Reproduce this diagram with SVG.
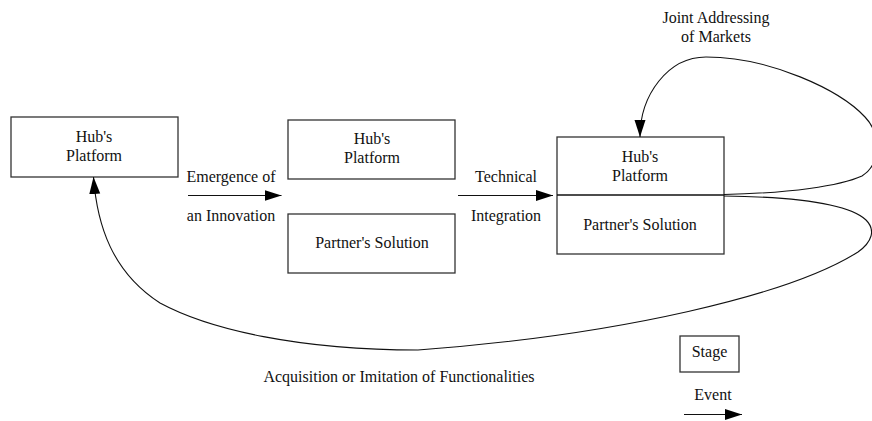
<svg xmlns="http://www.w3.org/2000/svg" width="872" height="421" viewBox="0 0 872 421">
<style>
.box{fill:#fff;stroke:#333;stroke-width:1.3}
text{font-family:Liberation Serif,Times New Roman,Times,serif;font-size:16px;fill:#111;text-anchor:middle}
.conn{fill:none;stroke:#111;stroke-width:1.1}
</style>
<defs>
<marker id="ah" markerUnits="userSpaceOnUse" markerWidth="18" markerHeight="12" refX="17" refY="5.5" orient="auto" viewBox="0 0 18 11">
<path d="M0,0 L17,5.5 L0,11 z" fill="#000"/>
</marker>
</defs>
<rect width="872" height="421" fill="#fff"/>
<g id="stage1">
<rect class="box" x="11" y="117" width="167" height="60"/>
<text x="94" y="142" font-family="Liberation Serif">Hub's</text>
<text x="94" y="161" font-family="Liberation Serif">Platform</text>
</g>
<g id="stage2-hub">
<rect class="box" x="288" y="120" width="167" height="59"/>
<text x="372" y="144" font-family="Liberation Serif">Hub's</text>
<text x="372" y="163" font-family="Liberation Serif">Platform</text>
</g>
<g id="stage2-partner">
<rect class="box" x="288" y="214" width="167" height="59"/>
<text x="372" y="248" font-family="Liberation Serif">Partner's Solution</text>
</g>
<g id="stage3">
<rect class="box" x="557" y="137" width="167" height="117"/>
<line x1="557" y1="195" x2="724" y2="195" stroke="#111" stroke-width="1.3"/>
<text x="640" y="162" font-family="Liberation Serif">Hub's</text>
<text x="640" y="181" font-family="Liberation Serif">Platform</text>
<text x="640" y="230" font-family="Liberation Serif">Partner's Solution</text>
</g>
<g id="legend-stage">
<rect class="box" x="680" y="336" width="59" height="36"/>
<text x="709.5" y="357" font-family="Liberation Serif">Stage</text>
</g>
<g id="connectors">
<line class="conn" x1="188" y1="195.5" x2="281.5" y2="195.5" marker-end="url(#ah)"/>
<line class="conn" x1="458" y1="195.5" x2="553" y2="195.5" marker-end="url(#ah)"/>
<path class="conn" d="M724,194.5 C790,193 840,186 862,176 C880,165 882,135 865,117 C840,90 770,57 706,57 C668,57 640,95 640,137" marker-end="url(#ah)"/>
<path class="conn" d="M724,196 C800,197 850,205 866,220 C876,230 872,242 858,252 C790,295 620,335 418,350 C300,350 210,330 160,303 C112,272 97,225 93.5,177" marker-end="url(#ah)"/>
<line class="conn" x1="684" y1="414.5" x2="742" y2="414.5" marker-end="url(#ah)"/>
</g>
<g id="labels">
<text x="231" y="182" font-family="Liberation Serif">Emergence of</text>
<text x="231" y="221" font-family="Liberation Serif">an Innovation</text>
<text x="506" y="182" font-family="Liberation Serif">Technical</text>
<text x="506" y="221" font-family="Liberation Serif">Integration</text>
<text x="716" y="23" font-family="Liberation Serif">Joint Addressing</text>
<text x="716" y="42" font-family="Liberation Serif">of Markets</text>
<text x="399" y="382" font-family="Liberation Serif">Acquisition or Imitation of Functionalities</text>
<text x="713" y="400" font-family="Liberation Serif">Event</text>
</g>
</svg>
